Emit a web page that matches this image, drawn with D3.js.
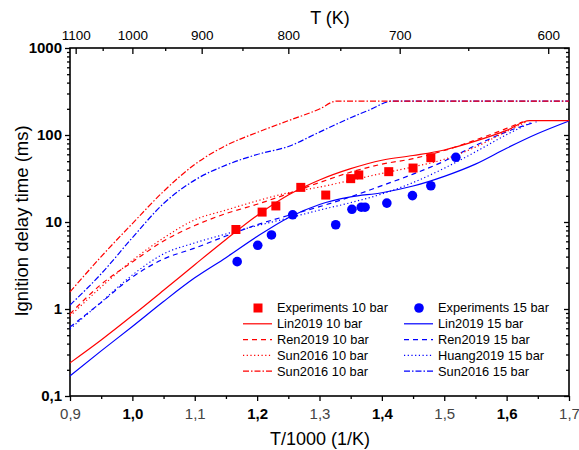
<!DOCTYPE html>
<html>
<head>
<meta charset="utf-8">
<script src="https://cdn.jsdelivr.net/npm/d3@7"></script>
<style>
  body { margin: 0; background: #fff; }
  svg { font-family: Arial, "Liberation Sans", sans-serif; }
</style>
</head>
<body>
<svg id="chart" width="579" height="450"></svg>
<script>
// data (x = 1000/T, y = ignition delay in ms)
var gridX = [0.90, 0.95, 1.00, 1.05, 1.10, 1.15, 1.20, 1.25, 1.30, 1.35, 1.40, 1.45, 1.50, 1.55, 1.60];

var lin10X = gridX.concat([1.637, 1.70]);
var lin10Y = [0.24, 0.44, 0.84, 1.64, 3.23, 6.3, 11.9, 20.4, 30.4, 41, 51.3, 58.1, 67.2, 85, 113, 146, 146];
var lin15X = gridX.concat([1.65, 1.70]);
var lin15Y = [0.17, 0.33, 0.63, 1.22, 2.28, 3.89, 6.8, 11.2, 15.9, 19.4, 21.7, 25.9, 33.5, 46.3, 70.5, 104, 145];
var ren10X = gridX.concat([1.626]);
var ren10Y = [0.877, 1.92, 3.47, 6.05, 9.1, 12.5, 16.0, 21.2, 28.4, 37.4, 46.2, 53.5, 66.3, 87.6, 119, 142];
var sun10X = gridX.concat([1.632]);
var sun10Y = [0.83, 1.79, 3.62, 6.55, 10.6, 13.7, 17.5, 21.7, 25.2, 30.1, 36.2, 43, 52.6, 72.6, 110, 142];
var ren15X = gridX.concat([1.648]);
var ren15Y = [0.62, 1.19, 2.33, 3.75, 5.01, 6.9, 9.3, 11.9, 15.0, 19.5, 26.2, 35.5, 50, 75.7, 109, 142];
var huang15X = gridX.concat([1.642]);
var huang15Y = [0.59, 1.20, 2.46, 4.30, 5.75, 7.28, 9.07, 11.1, 13.7, 16.7, 21, 28.4, 41.5, 64, 101, 142];
var sunDd10X = [0.90, 0.95, 1.00, 1.05, 1.10, 1.15, 1.20, 1.25, 1.30, 1.327, 1.70];
var sunDd10Y = [1.57, 4.0, 9.6, 22.5, 45.9, 75.7, 107, 146, 199, 245, 245];
var sunDd15X = [0.90, 0.95, 1.00, 1.05, 1.10, 1.15, 1.20, 1.25, 1.30, 1.35, 1.38, 1.416, 1.70];
var sunDd15Y = [1.11, 2.54, 6.6, 16.3, 30.3, 45, 59.7, 73.8, 108, 158, 194, 245, 245];

var exp10X = [1.166, 1.208, 1.230, 1.270, 1.310, 1.350, 1.363, 1.411, 1.450, 1.4785];
var exp10Y = [8.2, 13.0, 15.3, 25.0, 20.4, 31.5, 34.7, 37.9, 41.7, 54.9];
var exp15X = [1.168, 1.201, 1.223, 1.257, 1.326, 1.352, 1.367, 1.373, 1.408, 1.449, 1.4785, 1.5186];
var exp15Y = [3.5, 5.4, 7.1, 12.1, 9.3, 14.0, 14.8, 14.8, 16.5, 20.1, 26.1, 55.4];

var xTicks = [0.9, 1.0, 1.1, 1.2, 1.3, 1.4, 1.5, 1.6, 1.7];
var xMinor = [0.95, 1.05, 1.15, 1.25, 1.35, 1.45, 1.55, 1.65];
var yTicks = [0.1, 1, 10, 100, 1000];
var yLabels = ["0,1", "1", "10", "100", "1000"];
var tTicks = [1100, 1000, 900, 800, 700, 600];
var tMinor = [1050, 950, 850, 750, 650];

var svg = d3.select("#chart");
var L = 70, R = 569, T = 48, B = 396;

var x = d3.scaleLinear().domain([0.9, 1.7]).range([L, R]);
var y = d3.scaleLog().domain([0.1, 1000]).range([B, T]);

var yMinor = [];
yTicks.slice(0, 4).forEach(function(d) {
  for (var k = 2; k < 10; k++) yMinor.push(d * k);
});

function styleAxis(g) {
  g.select(".domain").remove();
  g.selectAll(".tick line").attr("stroke", "#000").attr("stroke-width", 1.3);
}

// bottom axis
var gb = svg.append("g").attr("transform", "translate(0," + B + ")");
gb.call(d3.axisBottom(x).tickValues(xTicks).tickSize(5).tickPadding(7)
  .tickFormat(function(d) { return d3.format(".1f")(d).replace(".", ","); }))
  .call(styleAxis);
gb.selectAll(".tick text")
  .attr("font-size", 15)
  .attr("font-family", "Arial, 'Liberation Sans', sans-serif")
  .attr("font-weight", function(d, i) { return i % 2 ? "bold" : "normal"; })
  .attr("fill", function(d, i) { return i % 2 ? "#000" : "#444"; });
svg.append("g").attr("transform", "translate(0," + B + ")")
  .call(d3.axisBottom(x).tickValues(xMinor).tickSize(3).tickFormat(""))
  .call(styleAxis);

// left axis
var gl = svg.append("g").attr("transform", "translate(" + L + ",0)");
gl.call(d3.axisLeft(y).tickValues(yTicks).tickSize(5).tickPadding(3)
  .tickFormat(function(d, i) { return yLabels[i]; }))
  .call(styleAxis);
gl.selectAll(".tick text")
  .attr("font-size", 15).attr("font-weight", "bold").attr("fill", "#000")
  .attr("font-family", "Arial, 'Liberation Sans', sans-serif");
svg.append("g").attr("transform", "translate(" + L + ",0)")
  .call(d3.axisLeft(y).tickValues(yMinor).tickSize(3).tickFormat(""))
  .call(styleAxis);

// right axis, ticks inward
svg.append("g").attr("transform", "translate(" + R + ",0)")
  .call(d3.axisLeft(y).tickValues(yTicks).tickSize(5).tickFormat(""))
  .call(styleAxis);
svg.append("g").attr("transform", "translate(" + R + ",0)")
  .call(d3.axisLeft(y).tickValues(yMinor).tickSize(3).tickFormat(""))
  .call(styleAxis);

// top axis in T (K), ticks inward
var gt = svg.append("g").attr("transform", "translate(0," + T + ")");
gt.call(d3.axisTop(x).tickValues(tTicks.map(function(t) { return 1000 / t; }))
  .tickSize(0).tickPadding(8)
  .tickFormat(function(d, i) { return tTicks[i]; }))
  .call(styleAxis);
gt.selectAll(".tick text").attr("font-size", 13.5).attr("fill", "#000")
  .attr("font-family", "Arial, 'Liberation Sans', sans-serif");
svg.append("g").attr("transform", "translate(0," + T + ")")
  .call(d3.axisBottom(x).tickValues(tTicks.map(function(t) { return 1000 / t; })).tickSize(6).tickFormat(""))
  .call(styleAxis);
svg.append("g").attr("transform", "translate(0," + T + ")")
  .call(d3.axisBottom(x).tickValues(tMinor.map(function(t) { return 1000 / t; })).tickSize(3).tickFormat(""))
  .call(styleAxis);

// frame
svg.append("rect").attr("x", L).attr("y", T).attr("width", R - L).attr("height", B - T)
  .attr("fill", "none").attr("stroke", "#000").attr("stroke-width", 1.6);

// titles
svg.append("text").attr("x", 320).attr("y", 445).attr("text-anchor", "middle")
  .attr("font-size", 18).text("T/1000 (1/K)");
svg.append("text").attr("x", 330).attr("y", 24).attr("text-anchor", "middle")
  .attr("font-size", 18).text("T (K)");
svg.append("text").attr("transform", "translate(28,221) rotate(-90)")
  .attr("text-anchor", "middle").attr("font-size", 18.5).text("Ignition delay time (ms)");

// model curves
var series = [
  { name: "Sun2016 15 bar", xs: sunDd15X, ys: sunDd15Y, color: "#0000ff", dash: "6,2,1.5,2" },
  { name: "Sun2016 10 bar", xs: sunDd10X, ys: sunDd10Y, color: "#ff0000", dash: "6,2,1.5,2" },
  { name: "Huang2019 15 bar", xs: huang15X, ys: huang15Y, color: "#0000ff", dash: "1.2,2.5" },
  { name: "Ren2019 15 bar", xs: ren15X, ys: ren15Y, color: "#0000ff", dash: "5,4" },
  { name: "Sun2016 10 bar", xs: sun10X, ys: sun10Y, color: "#ff0000", dash: "1.2,2.5" },
  { name: "Ren2019 10 bar", xs: ren10X, ys: ren10Y, color: "#ff0000", dash: "5,4" },
  { name: "Lin2019 15 bar", xs: lin15X, ys: lin15Y, color: "#0000ff", dash: null },
  { name: "Lin2019 10 bar", xs: lin10X, ys: lin10Y, color: "#ff0000", dash: null }
];

var line = d3.line()
  .x(function(d) { return x(d[0]); })
  .y(function(d) { return y(d[1]); })
  .curve(d3.curveMonotoneX);

svg.append("g").selectAll("path").data(series).enter().append("path")
  .attr("d", function(s) { return line(d3.zip(s.xs, s.ys)); })
  .attr("fill", "none")
  .attr("stroke", function(s) { return s.color; })
  .attr("stroke-width", 1.2)
  .attr("stroke-dasharray", function(s) { return s.dash; });

// experiments
svg.append("g").selectAll("rect").data(d3.zip(exp10X, exp10Y)).enter().append("rect")
  .attr("x", function(d) { return x(d[0]) - 4.5; })
  .attr("y", function(d) { return y(d[1]) - 4.5; })
  .attr("width", 9).attr("height", 9).attr("fill", "#ff0000");
svg.append("g").selectAll("circle").data(d3.zip(exp15X, exp15Y)).enter().append("circle")
  .attr("cx", function(d) { return x(d[0]); })
  .attr("cy", function(d) { return y(d[1]); })
  .attr("r", 4.8).attr("fill", "#0000ff");

// legend
var legendLeft = [
  { label: "Experiments 10 bar", marker: "square", color: "#ff0000" },
  { label: "Lin2019 10 bar", dash: null, color: "#ff0000" },
  { label: "Ren2019 10 bar", dash: "5,4", color: "#ff0000" },
  { label: "Sun2016 10 bar", dash: "1.2,2.5", color: "#ff0000" },
  { label: "Sun2016 10 bar", dash: "6,2,1.5,2", color: "#ff0000" }
];
var legendRight = [
  { label: "Experiments 15 bar", marker: "circle", color: "#0000ff" },
  { label: "Lin2019 15 bar", dash: null, color: "#0000ff" },
  { label: "Ren2019 15 bar", dash: "5,4", color: "#0000ff" },
  { label: "Huang2019 15 bar", dash: "1.2,2.5", color: "#0000ff" },
  { label: "Sun2016 15 bar", dash: "6,2,1.5,2", color: "#0000ff" }
];

function drawLegend(items, x0) {
  var g = svg.append("g").attr("transform", "translate(" + x0 + ",308)");
  items.forEach(function(it, i) {
    var yy = i * 15.8;
    if (it.marker === "square") {
      g.append("rect").attr("x", 15 - 4.5).attr("y", yy - 4.5).attr("width", 9).attr("height", 9).attr("fill", it.color);
    } else if (it.marker === "circle") {
      g.append("circle").attr("cx", 15).attr("cy", yy).attr("r", 4.8).attr("fill", it.color);
    } else {
      g.append("line").attr("x1", 0).attr("x2", 29).attr("y1", yy).attr("y2", yy)
        .attr("stroke", it.color).attr("stroke-width", 1.2).attr("stroke-dasharray", it.dash);
    }
    g.append("text").attr("x", 34).attr("y", yy).attr("dy", "0.35em")
      .attr("font-size", 12.8).text(it.label);
  });
}
drawLegend(legendLeft, 243);
drawLegend(legendRight, 404);
</script>
</body>
</html>
